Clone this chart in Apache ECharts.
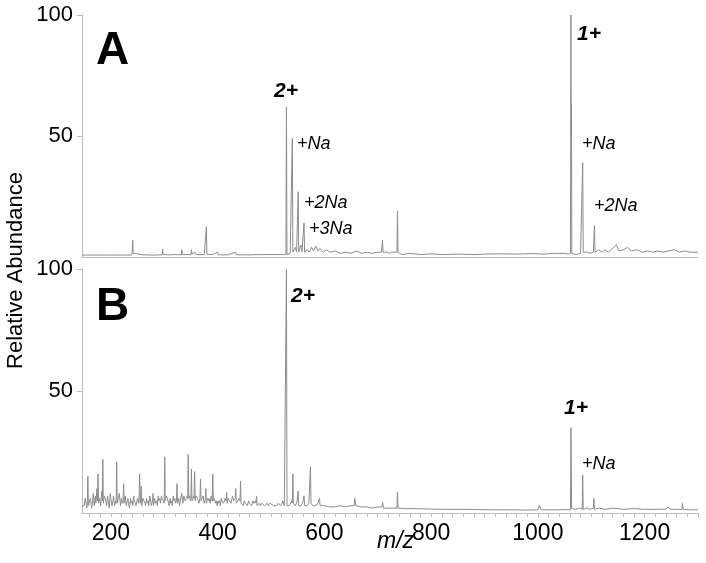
<!DOCTYPE html>
<html>
<head>
<meta charset="utf-8">
<script src="https://cdn.jsdelivr.net/npm/echarts@6.0.0/dist/echarts.min.js"></script>
<style>
  html, body { margin: 0; padding: 0; background: #fff; }
  #chart { width: 706px; height: 563px; }
</style>
</head>
<body>
<div id="chart"></div>
<script>
// m/z range and tick labels
const mzMin = 146;
const mzMax = 1300;
const xTickLabels = [200, 400, 600, 800, 1000, 1200];
const yTickLabels = [50, 100];

// panel A spectrum, [m/z, relative abundance]
const spectrumA = [
  [146, 0.8], [200, 0.8], [230, 0.8], [239, 0.8], [240, 2], [241, 7], [242, 1.5], [244, 0.8],
  [260, 0.9], [280, 0.8], [296, 0.9], [297, 3.3], [298, 1], [310, 0.9], [320, 1], [332, 0.9],
  [333, 3], [334, 1], [345, 1], [350, 1], [351, 3], [352, 1.2], [357, 2], [360, 1], [375, 1],
  [377, 1.5], [378, 1.5], [379, 12.5], [380, 1.2], [390, 0.9], [400, 2], [401, 0.9], [420, 0.9],
  [434, 2], [435, 0.9], [460, 0.9], [480, 1], [500, 1], [520, 1], [528, 1], [529, 62], [530, 1],
  [536, 1.5], [539, 2], [540, 49], [541, 2], [546, 4], [548, 2], [550, 2], [551, 27], [552, 2],
  [556, 5], [558, 2], [561, 2], [562, 14], [563, 2], [568, 3], [572, 2], [576, 4], [580, 2.5],
  [584, 4.5], [588, 2.5], [592, 3.5], [598, 2], [604, 3], [610, 2], [620, 2.5], [630, 1.5],
  [640, 2], [650, 1.5], [660, 2.5], [670, 1.5], [680, 2], [690, 1.5], [700, 2], [707, 2],
  [709, 7], [710, 2], [716, 2], [722, 1.5], [726, 2], [730, 2], [736, 2], [737, 19], [738, 2],
  [745, 1], [760, 1.5], [780, 1], [800, 1.3], [820, 1], [850, 1.2], [880, 1], [900, 1.2],
  [930, 1.3], [960, 1.2], [990, 1.4], [1010, 1.2], [1030, 1.5], [1050, 1.5], [1057, 1.2],
  [1061, 1.5], [1062, 100], [1062.5, 50], [1063, 63], [1063.6, 1.5], [1072, 1], [1080, 1.5],
  [1083, 2], [1084, 39], [1085, 2], [1092, 2], [1098, 1.5], [1104, 2], [1105, 2], [1106, 13],
  [1107, 2], [1114, 3], [1120, 2], [1126, 3], [1132, 2], [1140, 3.5], [1147, 5], [1152, 2.5],
  [1160, 3], [1168, 4], [1175, 2.5], [1185, 3], [1195, 2], [1205, 2.5], [1215, 2], [1225, 2.5],
  [1235, 2], [1245, 2.5], [1255, 3], [1265, 2], [1275, 2.5], [1285, 2], [1300, 2]
];

// panel B spectrum, [m/z, relative abundance]
const spectrumB = [
  [146, 3], [150, 3], [152, 6], [153, 5], [155, 2], [156, 4], [157, 15], [158, 3], [160, 5],
  [162, 6], [164, 2], [166, 5], [167, 8], [169, 3], [171, 7], [172, 4], [174, 10], [175, 5],
  [176, 16], [177, 4], [179, 6], [181, 3], [183, 9], [184, 5], [185, 22], [186, 4], [188, 7],
  [190, 6], [192, 3], [194, 7], [195, 5], [197, 2], [199, 8], [200, 6], [202, 3], [204, 5],
  [205, 7], [207, 3], [209, 5], [210, 4], [211, 21], [212, 4], [214, 6], [216, 8], [218, 3],
  [220, 6], [221, 4], [223, 5], [224, 12], [225, 4], [227, 7], [229, 3], [231, 5], [232, 6],
  [234, 3], [235, 2], [237, 6], [238, 4], [240, 5], [241, 3], [243, 7], [244, 5], [246, 4],
  [247, 3], [249, 5], [250, 6], [252, 4], [253, 7], [254, 16], [255, 4], [256, 6], [257, 11],
  [258, 3], [260, 6], [262, 5], [264, 4], [265, 3], [267, 6], [268, 4], [270, 5], [271, 3],
  [273, 7], [274, 6], [276, 3], [278, 5], [279, 8], [280, 3], [282, 6], [284, 4], [286, 5],
  [287, 3], [289, 7], [290, 5], [292, 6], [293, 4], [295, 7], [296, 6], [298, 5], [299, 5],
  [300, 4], [301, 23], [302, 5], [304, 7], [306, 6], [308, 4], [309, 3], [311, 6], [312, 4],
  [314, 5], [315, 3], [317, 7], [318, 5], [320, 6], [321, 4], [323, 5], [324, 12], [325, 4],
  [327, 6], [329, 3], [330, 5], [331, 5], [333, 8], [334, 5], [335, 4], [337, 7], [338, 6],
  [339, 5], [340, 5], [342, 6], [343, 7], [344, 6], [345, 24], [346, 6], [348, 7], [349, 5],
  [350, 6], [351, 18], [352, 5], [354, 6], [355, 7], [356, 6], [357, 17], [358, 5], [360, 7],
  [362, 6], [364, 5], [365, 4], [367, 6], [368, 14], [369, 5], [371, 6], [373, 7], [374, 5],
  [375, 4], [377, 6], [378, 10], [379, 4], [381, 6], [383, 5], [384, 6], [386, 4], [388, 7],
  [390, 5], [391, 16], [392, 5], [394, 6], [396, 4], [398, 5], [399, 3], [401, 5], [402, 4],
  [404, 5], [405, 3], [407, 6], [408, 5], [410, 5], [411, 4], [413, 5], [414, 6], [416, 5],
  [417, 8.5], [418, 4], [420, 6], [422, 5], [424, 5], [425, 4], [427, 6], [428, 7], [430, 5],
  [431, 5], [433, 6], [434, 10], [435, 4], [438, 5], [440, 6], [442, 5], [443, 13], [444, 4],
  [446, 4], [448, 3], [450, 5], [452, 4], [454, 4], [456, 3], [458, 5], [460, 4], [462, 4],
  [464, 3], [466, 5], [468, 4], [470, 4], [471, 5], [472, 4], [473, 7], [474, 3], [478, 4],
  [480, 3], [483, 4], [485, 4], [488, 3], [490, 3], [493, 4], [495, 3], [498, 4], [500, 3.5],
  [505, 3], [510, 3], [514, 4], [515, 4], [518, 3], [521, 4], [522, 5], [525, 3], [528, 3],
  [529, 100], [530, 3], [534, 3], [537, 4], [539, 5], [540, 4], [541, 16], [542, 4], [546, 3],
  [549, 5], [550, 5], [551, 9], [552, 3], [556, 3], [559, 4], [561, 4], [562, 7], [563, 3],
  [568, 3], [571, 4], [573, 4], [574, 19], [575, 4], [578, 3], [582, 3], [587, 3.5], [590, 3],
  [591, 6], [592, 3], [600, 3], [610, 2.5], [620, 2.5], [630, 3], [640, 2.5], [650, 3],
  [656, 3], [657, 6], [659, 3], [670, 2.5], [680, 2.5], [690, 2], [700, 2.5], [708, 2.5],
  [709, 4.5], [711, 2], [720, 2], [730, 2], [736, 2], [737, 8.5], [738, 2], [750, 1.8],
  [770, 1.8], [800, 1.6], [830, 1.5], [860, 1.5], [890, 1.4], [920, 1.3], [950, 1.3],
  [980, 1.2], [1000, 1.3], [1003, 3.3], [1006, 1.3], [1020, 1.3], [1040, 1.3], [1055, 1.4],
  [1061, 1.3], [1062, 35], [1062.5, 21], [1063.2, 2], [1070, 1.5], [1078, 2], [1083, 1.5],
  [1084, 15.6], [1085, 1.5], [1092, 2], [1098, 1.5], [1104, 2], [1105, 6], [1106, 1.5],
  [1115, 2], [1125, 1.5], [1140, 2], [1160, 1.5], [1180, 1.8], [1200, 1.5], [1220, 1.5],
  [1240, 1.6], [1244, 2.5], [1248, 1.5], [1260, 1.5], [1270, 1.5], [1271, 4], [1272, 1.5],
  [1285, 1.3], [1300, 1.3]
];

// small ticks along the m/z axis
const minorTicks = [];
for (let v = 160; v <= 1300; v += 20) minorTicks.push(v);

const axisGray = '#bdbdbd';
const lineGray = '#8c8c8c';

const chart = echarts.init(document.getElementById('chart'), null, { renderer: 'canvas' });

function yAxisFor(gridIndex) {
  return {
    type: 'value', gridIndex: gridIndex, min: 0, max: 100, interval: 50,
    axisLine: { show: true, lineStyle: { color: axisGray, width: 1 } },
    axisTick: { show: true, length: 5, customValues: yTickLabels, lineStyle: { color: axisGray } },
    axisLabel: {
      show: true, margin: 9, color: '#000', fontSize: 22, fontFamily: 'Liberation Sans, Arial',
      customValues: yTickLabels
    },
    splitLine: { show: false }
  };
}

const textStyle = (txt, x, y, size, weight, style) => ({
  type: 'text', left: x, top: y,
  style: { text: txt, fill: '#000', font: `${style} ${weight} ${size}px "Liberation Sans", Arial` }
});

chart.setOption({
  animation: false,
  grid: [
    { left: 82, right: 8, top: 15, height: 242 },
    { left: 82, right: 8, top: 269, height: 244 }
  ],
  xAxis: [
    {
      type: 'value', gridIndex: 0, min: mzMin, max: mzMax,
      axisLine: { show: true, onZero: false, lineStyle: { color: axisGray } },
      axisTick: { show: false }, axisLabel: { show: false }, splitLine: { show: false }
    },
    {
      type: 'value', gridIndex: 1, min: mzMin, max: mzMax,
      axisLine: { show: true, onZero: false, lineStyle: { color: axisGray } },
      axisTick: { show: true, length: 4, customValues: minorTicks, lineStyle: { color: axisGray } },
      axisLabel: {
        show: true, margin: 9, color: '#000', fontSize: 23, fontFamily: 'Liberation Sans, Arial',
        customValues: xTickLabels, formatter: v => String(v)
      },
      splitLine: { show: false }
    }
  ],
  yAxis: [yAxisFor(0), yAxisFor(1)],
  series: [
    {
      type: 'line', xAxisIndex: 0, yAxisIndex: 0, data: spectrumA,
      showSymbol: false, sampling: null, lineStyle: { color: lineGray, width: 1 }
    },
    {
      type: 'line', xAxisIndex: 1, yAxisIndex: 1, data: spectrumB,
      showSymbol: false, sampling: null, lineStyle: { color: lineGray, width: 1 }
    }
  ],
  graphic: [
    textStyle('A', 96, 28, 46, 'bold', 'normal'),
    textStyle('B', 96, 284, 46, 'bold', 'normal'),
    // panel A labels
    textStyle('2+', 274, 81, 21, 'bold', 'italic'),
    textStyle('+Na', 297, 135, 18, 'normal', 'italic'),
    textStyle('+2Na', 304, 194, 18, 'normal', 'italic'),
    textStyle('+3Na', 309, 220, 18, 'normal', 'italic'),
    textStyle('1+', 577, 24, 21, 'bold', 'italic'),
    textStyle('+Na', 582, 135, 18, 'normal', 'italic'),
    textStyle('+2Na', 594, 197, 18, 'normal', 'italic'),
    // panel B labels
    textStyle('2+', 291, 286, 21, 'bold', 'italic'),
    textStyle('1+', 564, 398, 21, 'bold', 'italic'),
    textStyle('+Na', 582, 455, 18, 'normal', 'italic'),
    // axis titles
    {
      type: 'text', left: 5, top: 172, rotation: Math.PI / 2,
      style: { text: 'Relative Abundance', fill: '#000', font: '22px "Liberation Sans", Arial' }
    },
    textStyle('m/z', 377, 530, 23, 'normal', 'italic')
  ]
});
</script>
</body>
</html>
